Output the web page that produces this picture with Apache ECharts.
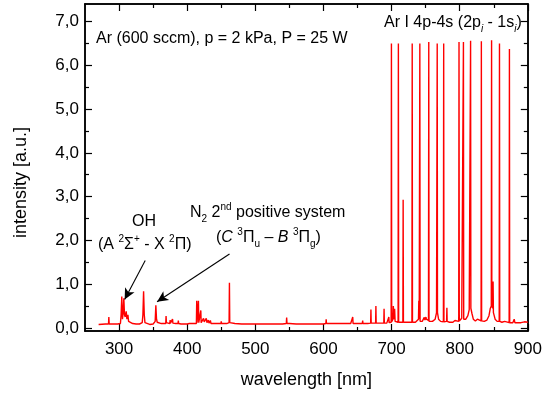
<!DOCTYPE html>
<html>
<head>
<meta charset="utf-8">
<script src="https://cdn.jsdelivr.net/npm/echarts@6/dist/echarts.min.js"></script>
<style>
html,body{margin:0;padding:0;background:#fff;}
#chart{width:545px;height:394px;}
</style>
</head>
<body>
<div id="chart"></div>
<script>
// ---- data ----
const spectrumNm = [
  270, 280, 284.5, 285, 285.5, 290.5, 291, 291.5, 298, 302,
  303, 304, 305, 306, 307, 308, 309, 310.5, 311.5, 313,
  314, 316, 320, 325, 330, 334, 335, 336, 337, 338,
  340, 345, 350, 353, 354, 355, 356, 358, 362, 368.5,
  369, 369.5, 372, 374.5, 375, 375.5, 378, 378.5, 379, 383,
  386.5, 387, 387.5, 391, 395.5, 396, 396.5, 400, 403, 404,
  405, 410, 413.5, 414, 414.5, 416, 416.5, 417, 419.5, 420,
  420.5, 423, 424, 425, 427, 428, 429, 431, 432, 434,
  435, 437, 438, 445, 449.5, 450, 450.5, 455, 458, 461.5,
  462, 462.5, 465, 470, 480, 500, 520, 540, 545.5, 546,
  546.5, 550, 560, 580, 600, 603.5, 604, 604.5, 610, 620,
  640, 642.5, 643, 643.5, 650, 657, 657.6, 658, 665, 669.3,
  669.7, 670.1, 676.6, 677, 677.4, 680, 688.6, 689, 689.4, 693,
  695.6, 696, 696.4, 699.4, 699.8, 700.2, 702, 702.6, 703.2, 704.5,
  705.2, 709.6, 710, 710.4, 712, 713, 716.6, 717, 717.4, 721.2,
  721.6, 722, 729.9, 730.3, 730.7, 735, 739.5, 740, 740.6, 741.1,
  741.5, 741.9, 745, 748, 749, 750.5, 751, 754.2, 754.6, 755,
  760, 764, 766, 766.6, 767, 767.4, 769, 772, 776.1, 776.5,
  776.9, 779, 780.8, 781.2, 781.6, 785, 790, 793, 794, 798.6,
  799, 799.4, 802, 803, 805.1, 805.5, 805.9, 809, 812, 814,
  815.6, 816, 816.4, 818, 820, 823, 826, 828, 831.4, 831.8,
  832.2, 836, 840, 843, 845, 846.4, 846.8, 847.2, 848.5, 849,
  849.5, 852, 855, 858, 858.4, 858.8, 862, 866, 867, 872.6,
  873, 873.4, 878, 880, 881, 890, 895, 900
];
const spectrumI = [
  0.08, 0.09, 0.09, 0.25, 0.09, 0.09, 0.12, 0.09, 0.09, 0.10,
  0.30, 0.72, 0.20, 0.35, 0.68, 0.30, 0.25, 0.38, 0.20, 0.30,
  0.15, 0.12, 0.10, 0.09, 0.09, 0.12, 0.30, 0.84, 0.30, 0.12,
  0.10, 0.08, 0.09, 0.15, 0.52, 0.20, 0.13, 0.10, 0.10, 0.10,
  0.27, 0.12, 0.11, 0.10, 0.18, 0.11, 0.10, 0.20, 0.11, 0.10,
  0.10, 0.17, 0.10, 0.09, 0.09, 0.12, 0.09, 0.09, 0.10, 0.14,
  0.10, 0.10, 0.10, 0.62, 0.12, 0.12, 0.62, 0.12, 0.12, 0.40,
  0.12, 0.12, 0.22, 0.14, 0.16, 0.22, 0.12, 0.18, 0.11, 0.17,
  0.10, 0.14, 0.10, 0.10, 0.10, 0.15, 0.10, 0.10, 0.10, 0.12,
  1.03, 0.12, 0.10, 0.10, 0.09, 0.09, 0.09, 0.09, 0.10, 0.24,
  0.10, 0.10, 0.09, 0.09, 0.09, 0.10, 0.20, 0.10, 0.10, 0.10,
  0.10, 0.10, 0.25, 0.10, 0.10, 0.10, 0.17, 0.10, 0.10, 0.11,
  0.42, 0.11, 0.11, 0.50, 0.11, 0.11, 0.11, 0.44, 0.11, 0.11,
  0.12, 0.25, 0.12, 0.13, 6.50, 0.14, 0.20, 0.50, 0.20, 0.44,
  0.15, 0.13, 6.50, 0.13, 0.16, 0.13, 0.13, 2.93, 0.13, 0.13,
  0.17, 0.13, 0.13, 6.50, 0.13, 0.13, 0.20, 0.62, 0.20, 0.20,
  6.50, 0.15, 0.15, 0.24, 0.18, 0.25, 0.20, 0.17, 6.53, 0.15,
  0.15, 0.20, 0.35, 0.38, 6.50, 0.35, 0.20, 0.15, 0.14, 6.50,
  0.14, 0.15, 0.15, 0.46, 0.15, 0.13, 0.13, 0.17, 0.13, 0.15,
  6.53, 0.16, 0.18, 0.22, 0.20, 6.53, 0.20, 0.20, 0.28, 0.42,
  0.45, 6.56, 0.45, 0.33, 0.20, 0.16, 0.20, 0.16, 0.16, 6.55,
  0.16, 0.15, 0.18, 0.28, 0.45, 0.50, 6.57, 0.50, 0.45, 1.06,
  0.35, 0.20, 0.15, 0.15, 6.50, 0.15, 0.13, 0.15, 0.12, 0.12,
  6.37, 0.12, 0.12, 0.20, 0.12, 0.12, 0.14, 0.13
];
const xMajorTicks = [300, 400, 500, 600, 700, 800, 900];
const xMinorTicks = [350, 450, 550, 650, 750, 850];
const yMajorTicks = [0, 1, 2, 3, 4, 5, 6, 7];
const yMinorTicks = [0.5, 1.5, 2.5, 3.5, 4.5, 5.5, 6.5];
// arrow annotations: [startNm, startI, tipNm, tipI]
const ohArrow = [338.4, 1.54, 308.2, 0.65];
const n2Arrow = [462.1, 1.69, 355.8, 0.60];

const X_MIN = 250, X_MAX = 900, Y_MIN = -0.07, Y_MAX = 7.4;
const FONT = '"Liberation Sans", Arial, sans-serif';
const fmtY = v => v.toFixed(1).replace('.', ',');

function xAxis(pos, ticks, len, labels) {
  return {
    type: 'value', position: pos, min: X_MIN, max: X_MAX,
    axisLine: { show: true, onZero: false, lineStyle: { color: '#000', width: 1.5 } },
    axisTick: { show: true, inside: true, length: len, customValues: ticks, lineStyle: { color: '#000', width: 1.2 } },
    axisLabel: labels ? { show: true, customValues: ticks, margin: 10, color: '#000', fontSize: 17, fontFamily: FONT } : { show: false },
    splitLine: { show: false },
    name: labels ? 'wavelength [nm]' : '',
    nameLocation: 'middle', nameGap: 40,
    nameTextStyle: { color: '#000', fontSize: 18, fontFamily: FONT }
  };
}
function yAxis(pos, ticks, len, labels) {
  return {
    type: 'value', position: pos, min: Y_MIN, max: Y_MAX,
    axisLine: { show: true, onZero: false, lineStyle: { color: '#000', width: 1.5 } },
    axisTick: { show: true, inside: true, length: len, customValues: ticks, lineStyle: { color: '#000', width: 1.2 } },
    axisLabel: labels ? { show: true, customValues: ticks, margin: 6, color: '#000', fontSize: 17, fontFamily: FONT, formatter: fmtY } : { show: false },
    splitLine: { show: false },
    name: labels ? 'intensity [a.u.]' : '',
    nameLocation: 'middle', nameGap: 55,
    nameTextStyle: { color: '#000', fontSize: 18, fontFamily: FONT, padding: [0, 30, 0, 0] }
  };
}

const chart = echarts.init(document.getElementById('chart'), null, { renderer: 'canvas' });

const seriesData = spectrumNm.map((x, i) => [x, spectrumI[i]]);

const arrowLine = a => [
  { coord: [a[0], a[1]] },
  { coord: [a[2], a[3]] }
];

const annFont = 16;
const option = {
  animation: false,
  backgroundColor: '#fff',
  grid: { left: 85, right: 13, top: 4, bottom: 62, containLabel: false },
  xAxis: [
    xAxis('bottom', xMajorTicks, 7, true),
    xAxis('bottom', xMinorTicks, 4, false),
    xAxis('top', xMajorTicks, 7, false),
    xAxis('top', xMinorTicks, 4, false)
  ],
  yAxis: [
    yAxis('left', yMajorTicks, 7, true),
    yAxis('left', yMinorTicks, 4, false),
    yAxis('right', yMajorTicks, 7, false),
    yAxis('right', yMinorTicks, 4, false)
  ],
  series: [{
    type: 'line',
    xAxisIndex: 0, yAxisIndex: 0,
    data: seriesData,
    showSymbol: false,
    symbol: 'none',
    lineStyle: { color: '#ff0000', width: 1.4 },
    clip: true,
    markLine: {
      silent: true,
      symbol: ['none', 'arrow'],
      symbolSize: [8, 11],
      label: { show: false },
      lineStyle: { color: '#000', width: 1.1, type: 'solid' },
      data: [arrowLine(ohArrow), arrowLine(n2Arrow)]
    }
  }],
  graphic: [
    {
      type: 'text', x: 96, y: 39,
      style: {
        text: 'Ar (600 sccm), p = 2 kPa, P = 25 W',
        font: annFont + 'px ' + FONT, fill: '#000', verticalAlign: 'middle'
      }
    },
    {
      type: 'text', x: 384, y: 23,
      style: {
        text: 'Ar I 4p-4s (2p{sub|i} - 1s{sub|i})',
        font: annFont + 'px ' + FONT, fill: '#000', verticalAlign: 'middle',
        lineHeight: 22,
        rich: {
          sub: { fontSize: 10, fontStyle: 'italic', fontFamily: FONT, verticalAlign: 'bottom', lineHeight: 10, fill: '#000' }
        }
      }
    },
    {
      type: 'text', x: 144, y: 222,
      style: { text: 'OH', font: annFont + 'px ' + FONT, fill: '#000', align: 'center', verticalAlign: 'middle' }
    },
    {
      type: 'text', x: 98, y: 245,
      style: {
        text: '(A {sup|2}Σ{sup|+} - X {sup|2}Π)',
        font: annFont + 'px ' + FONT, fill: '#000', verticalAlign: 'middle',
        lineHeight: 22,
        rich: {
          sup: { fontSize: 10, fontFamily: FONT, verticalAlign: 'top', lineHeight: 10, fill: '#000' }
        }
      }
    },
    {
      type: 'text', x: 190, y: 213,
      style: {
        text: 'N{sub|2} 2{sup|nd} positive system',
        font: annFont + 'px ' + FONT, fill: '#000', verticalAlign: 'middle',
        lineHeight: 22,
        rich: {
          sub: { fontSize: 10, fontFamily: FONT, verticalAlign: 'bottom', lineHeight: 10, fill: '#000' },
          sup: { fontSize: 10, fontFamily: FONT, verticalAlign: 'top', lineHeight: 10, fill: '#000' }
        }
      }
    },
    {
      type: 'text', x: 216, y: 238,
      style: {
        text: '({it|C} {sup|3}Π{sub|u} – {it|B} {sup|3}Π{sub|g})',
        font: annFont + 'px ' + FONT, fill: '#000', verticalAlign: 'middle',
        lineHeight: 22,
        rich: {
          it: { fontSize: annFont, fontStyle: 'italic', fontFamily: FONT, fill: '#000' },
          sub: { fontSize: 10, fontFamily: FONT, verticalAlign: 'bottom', lineHeight: 10, fill: '#000' },
          sup: { fontSize: 10, fontFamily: FONT, verticalAlign: 'top', lineHeight: 10, fill: '#000' }
        }
      }
    }
  ]
};
chart.setOption(option);
</script>
</body>
</html>
